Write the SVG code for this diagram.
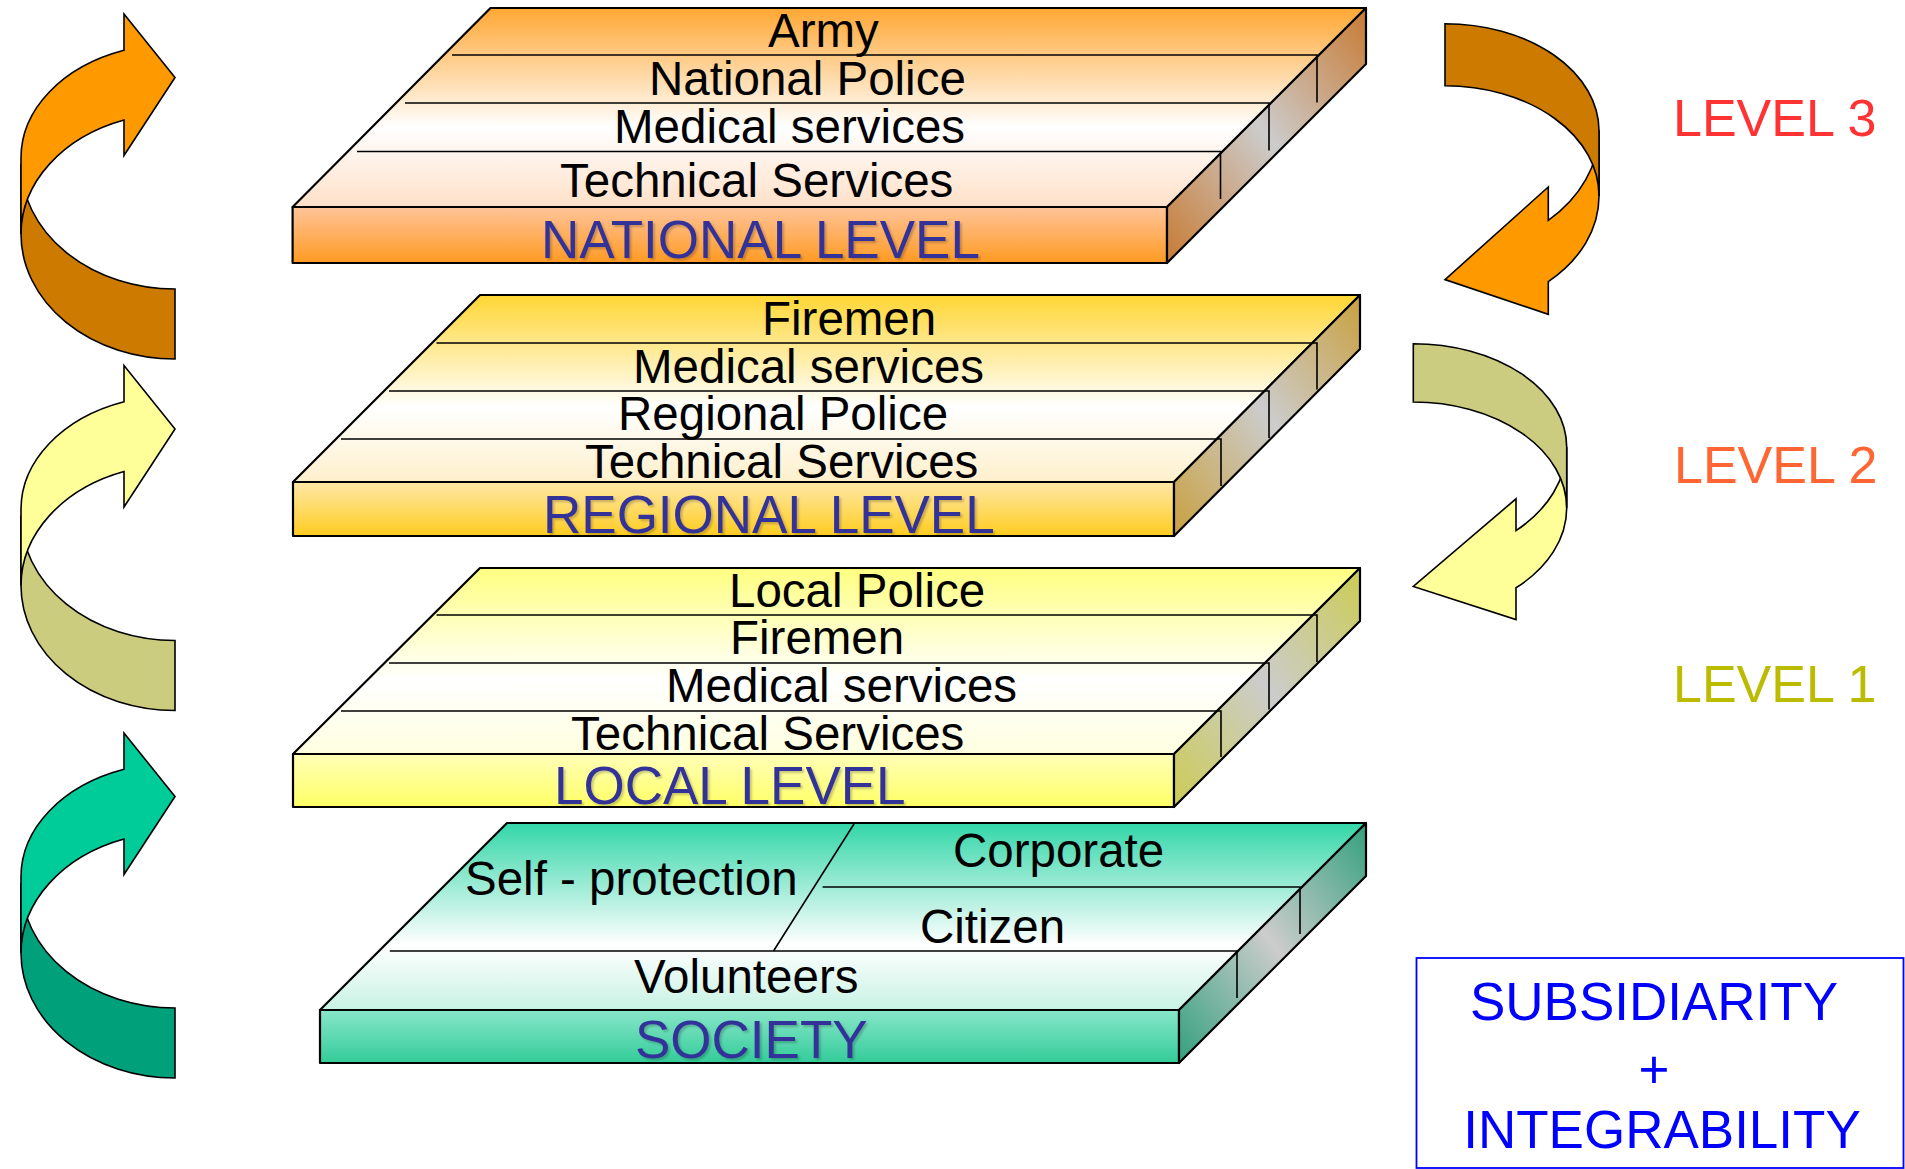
<svg xmlns="http://www.w3.org/2000/svg" width="1905" height="1169" viewBox="0 0 1905 1169">
<defs>
  <style>
    .t{font-family:"Liberation Sans",Arial,sans-serif;font-size:47.5px;fill:#000}
    .lv{font-family:"Liberation Sans",Arial,sans-serif;font-size:53px;fill:#333399}
    .lab{font-family:"Liberation Sans",Arial,sans-serif;font-size:52px}
    .box{font-family:"Liberation Sans",Arial,sans-serif;font-size:53px;fill:#0000FF}
    .edge{stroke:#000;stroke-width:2.2;stroke-linejoin:round}
    .div{stroke:#000;stroke-width:1.6;fill:none}
    .arr{stroke:#000;stroke-width:1.6;stroke-linejoin:miter}
  </style>
  <filter id="ts" x="-5%" y="-20%" width="110%" height="140%">
    <feDropShadow dx="2" dy="2" stdDeviation="0.8" flood-color="#000" flood-opacity="0.22"/>
  </filter>
  <linearGradient id="natTop" x1="0" y1="0" x2="0" y2="1">
    <stop offset="0" stop-color="#FFA733"/><stop offset="0.6" stop-color="#FFFFFF"/><stop offset="1" stop-color="#FFE0C8"/>
  </linearGradient>
  <linearGradient id="natFront" x1="0" y1="0" x2="0" y2="1">
    <stop offset="0" stop-color="#FFC49A"/><stop offset="1" stop-color="#FF9A22"/>
  </linearGradient>
  <linearGradient id="natSide" x1="1" y1="0" x2="0" y2="1">
    <stop offset="0" stop-color="#C87A33"/><stop offset="0.5" stop-color="#CCCCCC"/><stop offset="1" stop-color="#C87A33"/>
  </linearGradient>
  <linearGradient id="regTop" x1="0" y1="0" x2="0" y2="1">
    <stop offset="0" stop-color="#FFD633"/><stop offset="0.6" stop-color="#FFFFFF"/><stop offset="1" stop-color="#FFF0CC"/>
  </linearGradient>
  <linearGradient id="regFront" x1="0" y1="0" x2="0" y2="1">
    <stop offset="0" stop-color="#FFE8A8"/><stop offset="1" stop-color="#FFCC1F"/>
  </linearGradient>
  <linearGradient id="regSide" x1="1" y1="0" x2="0" y2="1">
    <stop offset="0" stop-color="#C9A040"/><stop offset="0.5" stop-color="#CCCCCC"/><stop offset="1" stop-color="#C9A040"/>
  </linearGradient>
  <linearGradient id="locTop" x1="0" y1="0" x2="0" y2="1">
    <stop offset="0" stop-color="#FFFF80"/><stop offset="0.6" stop-color="#FFFFFF"/><stop offset="1" stop-color="#FFFFE0"/>
  </linearGradient>
  <linearGradient id="locFront" x1="0" y1="0" x2="0" y2="1">
    <stop offset="0" stop-color="#FFFFB8"/><stop offset="1" stop-color="#FFFF66"/>
  </linearGradient>
  <linearGradient id="locSide" x1="1" y1="0" x2="0" y2="1">
    <stop offset="0" stop-color="#CCCC55"/><stop offset="0.5" stop-color="#CCCCCC"/><stop offset="1" stop-color="#CCCC55"/>
  </linearGradient>
  <linearGradient id="socTop" x1="0" y1="0" x2="0" y2="1">
    <stop offset="0" stop-color="#33D6A8"/><stop offset="0.65" stop-color="#FFFFFF"/><stop offset="1" stop-color="#C8F2E4"/>
  </linearGradient>
  <linearGradient id="socFront" x1="0" y1="0" x2="0" y2="1">
    <stop offset="0" stop-color="#88E6C9"/><stop offset="1" stop-color="#33CC99"/>
  </linearGradient>
  <linearGradient id="socSide" x1="1" y1="0" x2="0" y2="1">
    <stop offset="0" stop-color="#33A07E"/><stop offset="0.5" stop-color="#CCCCCC"/><stop offset="1" stop-color="#33A07E"/>
  </linearGradient>
  <path id="lArrLight" d="M 175,63.5 L 124,0 L 124,36.3 A 154 114 0 0 0 21,144 L 21,220 A 154 121 0 0 1 124,106 L 124,141.5 Z"/>
  <path id="lArrDark" d="M 21,150 A 154 125 0 0 0 175,275 L 175,345 A 154 125 0 0 1 21,220 Z"/>
</defs>
<rect x="0" y="0" width="1905" height="1169" fill="#FFFFFF"/>

<g id="connectors">
  <g id="arrow-left-3" transform="translate(0,14)">
    <use href="#lArrDark" class="arr" fill="#CC7A00"/>
    <use href="#lArrLight" class="arr" fill="#FF9900"/>
  </g>
  <g id="arrow-left-2" transform="translate(0,365.5)">
    <use href="#lArrDark" class="arr" fill="#CCCC7F"/>
    <use href="#lArrLight" class="arr" fill="#FFFF99"/>
  </g>
  <g id="arrow-left-1" transform="translate(0,733)">
    <use href="#lArrDark" class="arr" fill="#00A07A"/>
    <use href="#lArrLight" class="arr" fill="#00CC99"/>
  </g>
  <g id="arrow-right-3">
    <path class="arr" fill="#FF9900" d="M 1599,130.6 L 1599,196 A 154 115 0 0 1 1548.3,281.6 L 1548.3,314.3 L 1445,279.6 L 1548.3,187 L 1548.3,220.4 A 154 121 0 0 0 1599,130.6 Z"/>
    <path class="arr" fill="#CC7A00" d="M 1445,23.7 A 154 107 0 0 1 1599,130.6 L 1599,196 A 154 110 0 0 0 1445,85.7 Z"/>
  </g>
  <g id="arrow-right-2">
    <path class="arr" fill="#FFFF99" d="M 1566.7,447 L 1566.7,508 A 153.4 107.4 0 0 1 1516,587.8 L 1516,619.6 L 1413.3,586.5 L 1516,498.8 L 1516,530.6 A 153.4 112.5 0 0 0 1566.7,447 Z"/>
    <path class="arr" fill="#CCCC80" d="M 1413.3,343.7 A 153.4 103.3 0 0 1 1566.7,447 L 1566.7,508 A 153.4 106 0 0 0 1413.3,402 Z"/>
  </g>
</g>

<g id="national-level">
  <polygon class="edge" fill="url(#natTop)" points="490.5,8 1366,8 1167,207 292.6,207"/>
  <rect class="edge" fill="url(#natFront)" x="292.6" y="207" width="874.4" height="56"/>
  <polygon class="edge" fill="url(#natSide)" points="1167,207 1366,8 1366,64 1167,263"/>
  <path class="div" d="M452,55 H1317 V102.5 M405,103 H1269 V150.5 M357,151.5 H1220.5 V199"/>
  <text class="t" x="768" y="47">Army</text>
  <text class="t" x="649" y="95">National Police</text>
  <text class="t" x="614" y="143">Medical services</text>
  <text class="t" x="560" y="197">Technical Services</text>
  <text class="lv" x="541" y="258" filter="url(#ts)">NATIONAL LEVEL</text>
</g>

<g id="regional-level">
  <polygon class="edge" fill="url(#regTop)" points="480,295 1360,295 1174,482 293,482"/>
  <rect class="edge" fill="url(#regFront)" x="293" y="482" width="881" height="54"/>
  <polygon class="edge" fill="url(#regSide)" points="1174,482 1360,295 1360,349 1174,536"/>
  <path class="div" d="M436.5,343 H1317 V389.5 M389,391 H1269 V438 M341,439 H1221 V486"/>
  <text class="t" x="762" y="335">Firemen</text>
  <text class="t" x="633" y="383">Medical services</text>
  <text class="t" x="618" y="430">Regional Police</text>
  <text class="t" x="585" y="478">Technical Services</text>
  <text class="lv" x="543" y="533" filter="url(#ts)">REGIONAL LEVEL</text>
</g>

<g id="local-level">
  <polygon class="edge" fill="url(#locTop)" points="480,568 1360,568 1174,754 293,754"/>
  <rect class="edge" fill="url(#locFront)" x="293" y="754" width="881" height="53"/>
  <polygon class="edge" fill="url(#locSide)" points="1174,754 1360,568 1360,621 1174,807"/>
  <path class="div" d="M436.5,615 H1317 V662 M389,663 H1269 V709.5 M341,711 H1221 V757"/>
  <text class="t" x="729" y="607">Local Police</text>
  <text class="t" x="730" y="654">Firemen</text>
  <text class="t" x="666" y="702">Medical services</text>
  <text class="t" x="571" y="750">Technical Services</text>
  <text class="lv" x="554" y="804" filter="url(#ts)">LOCAL LEVEL</text>
</g>

<g id="society">
  <polygon class="edge" fill="url(#socTop)" points="507,823 1366,823 1179,1010 320,1010"/>
  <rect class="edge" fill="url(#socFront)" x="320" y="1010" width="859" height="53"/>
  <polygon class="edge" fill="url(#socSide)" points="1179,1010 1366,823 1366,876 1179,1063"/>
  <path class="div" d="M822.6,887 H1300 V934 M389.8,951 H1237 V998 M854,824 L773.5,951"/>
  <text class="t" x="465" y="895">Self - protection</text>
  <text class="t" x="953" y="867">Corporate</text>
  <text class="t" x="920" y="943">Citizen</text>
  <text class="t" x="634" y="993">Volunteers</text>
  <text class="lv" x="635" y="1058" filter="url(#ts)">SOCIETY</text>
</g>

<g id="level-labels">
  <text class="lab" x="1673" y="136" fill="#FF3333">LEVEL 3</text>
  <text class="lab" x="1674" y="483" fill="#FF6633">LEVEL 2</text>
  <text class="lab" x="1673" y="702" fill="#BBBB00">LEVEL 1</text>
</g>

<g id="principles-box">
  <rect x="1416.5" y="958" width="487" height="210" fill="#FFFFFF" stroke="#0000FF" stroke-width="1.8"/>
  <text class="box" x="1654" y="1020" text-anchor="middle">SUBSIDIARITY</text>
  <text class="box" x="1654" y="1088" text-anchor="middle">+</text>
  <text class="box" x="1662" y="1148" text-anchor="middle">INTEGRABILITY</text>
</g>
</svg>
